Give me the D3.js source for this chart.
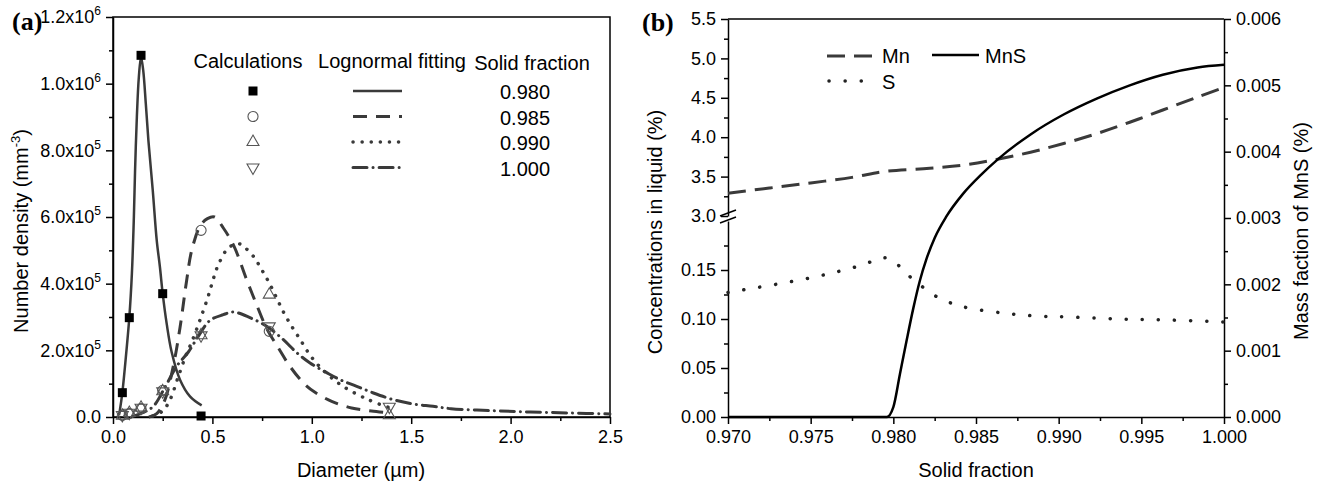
<!DOCTYPE html>
<html>
<head>
<meta charset="utf-8">
<script src="https://cdn.jsdelivr.net/npm/d3@7"></script>
<style>
  body { margin: 0; background: #fff; }
  text { font-family: "Liberation Sans", Arial, sans-serif; fill: #000; }
</style>
</head>
<body>
<svg id="chart" width="1322" height="484"></svg>
<script>
// ---------- panel (a) data: number density vs diameter ----------
const calcDiam = [0.047, 0.082, 0.141, 0.25, 0.443, 0.786, 1.39];
const calc980  = [7.3e4, 2.98e5, 1.085e6, 3.7e5, 3e3, null, null];
const calc985  = [5e3, 1.0e4, 2.5e4, 8.0e4, 5.6e5, 2.57e5, null];
const calc990  = [4e3, 1.2e4, 2.8e4, 7.7e4, 2.45e5, 3.67e5, 5e3];
const calc1000 = [6e3, 1.3e4, 2.8e4, 7.7e4, 2.45e5, 2.72e5, 3.1e4];

const fit980 = [[0.03, 5e3], [0.035, 2.2e4], [0.047, 7.3e4], [0.06, 1.5e5], [0.082, 2.98e5],
  [0.095, 4.3e5], [0.105, 6.0e5], [0.111, 7.4e5], [0.12, 9.0e5], [0.13, 1.02e6], [0.141, 1.08e6],
  [0.152, 1.04e6], [0.165, 9.4e5], [0.178, 8.3e5], [0.2, 6.8e5], [0.22, 5.3e5], [0.236, 4.5e5],
  [0.25, 3.7e5], [0.27, 2.8e5], [0.295, 1.95e5], [0.337, 1.12e5], [0.387, 6.2e4], [0.446, 3.5e4]];
const fit985 = [[0.18, 0], [0.22, 1.0e4], [0.26, 5.0e4], [0.303, 1.52e5], [0.337, 2.68e5],
  [0.371, 4.12e5], [0.396, 5.0e5], [0.44, 5.75e5], [0.475, 5.95e5], [0.51, 6.0e5], [0.555, 5.67e5],
  [0.609, 5.12e5], [0.669, 4.17e5], [0.719, 3.42e5], [0.776, 2.62e5], [0.827, 2.12e5],
  [0.89, 1.52e5], [0.966, 9.7e4], [1.016, 7.4e4], [1.1, 4.7e4], [1.2, 2.7e4], [1.3, 1.8e4], [1.39, 1.2e4]];
const fit990 = [[0.2, 3e3], [0.25, 1.8e4], [0.287, 5.2e4], [0.329, 1.22e5], [0.365, 1.82e5],
  [0.396, 2.25e5], [0.44, 2.95e5], [0.483, 3.7e5], [0.505, 4.15e5], [0.53, 4.57e5], [0.58, 5.07e5],
  [0.63, 5.2e5], [0.656, 5.12e5], [0.706, 4.82e5], [0.748, 4.42e5], [0.786, 4.02e5], [0.823, 3.57e5],
  [0.86, 3.12e5], [0.899, 2.72e5], [0.941, 2.33e5], [0.983, 1.93e5], [1.033, 1.55e5],
  [1.142, 9.8e4], [1.284, 5.2e4], [1.4, 2.6e4]];
const fit1000 = [[0.1, 2e3], [0.15, 1.3e4], [0.203, 3.2e4], [0.264, 9.2e4], [0.32, 1.52e5],
  [0.379, 1.95e5], [0.429, 2.42e5], [0.488, 2.9e5], [0.555, 3.07e5], [0.605, 3.15e5], [0.689, 2.98e5],
  [0.773, 2.72e5], [0.857, 2.32e5], [0.924, 1.93e5], [0.991, 1.62e5], [1.075, 1.33e5], [1.142, 1.12e5],
  [1.226, 9.2e4], [1.31, 7.2e4], [1.41, 5.2e4], [1.51, 3.9e4], [1.61, 3.2e4], [1.7, 2.5e4],
  [1.9, 1.9e4], [2.1, 1.5e4], [2.3, 1.2e4], [2.5, 9e3]];

const xTicksA = [0, 0.5, 1.0, 1.5, 2.0, 2.5];
const yTicksA = [0, 2e5, 4e5, 6e5, 8e5, 1e6, 1.2e6];
const fractions = ["0.980", "0.985", "0.990", "1.000"];

// ---------- panel (b) data: concentrations vs solid fraction ----------
const mnData = [[0.970, 3.29], [0.9725, 3.355], [0.975, 3.42], [0.9775, 3.49], [0.9795, 3.565],
  [0.9822, 3.605], [0.9844, 3.65], [0.9863, 3.72], [0.9883, 3.81], [0.9903, 3.92], [0.9923, 4.045],
  [0.9943, 4.19], [0.9963, 4.345], [0.9984, 4.51], [1.000, 4.63]];
const sData = [[0.970, 0.127], [0.9709, 0.1296], [0.975, 0.142], [0.9779, 0.154], [0.9793, 0.162],
  [0.9797, 0.162], [0.9805, 0.152], [0.9812, 0.14], [0.982, 0.13], [0.9828, 0.121], [0.9837, 0.115],
  [0.9846, 0.111], [0.9867, 0.106], [0.9887, 0.103], [0.9907, 0.102], [0.9937, 0.1], [0.9967, 0.099],
  [1.000, 0.097]];
const mnsData = [[0.970, 0], [0.9796, 0], [0.98, 1.5e-4], [0.9804, 6.5e-4], [0.9808, 1.15e-3],
  [0.9812, 1.63e-3], [0.9816, 2.05e-3], [0.982, 2.38e-3], [0.9825, 2.7e-3], [0.9832, 3.02e-3],
  [0.9842, 3.36e-3], [0.9853, 3.65e-3], [0.9863, 3.88e-3], [0.9883, 4.26e-3], [0.9903, 4.56e-3],
  [0.9923, 4.8e-3], [0.9943, 5.0e-3], [0.9963, 5.16e-3], [0.9984, 5.27e-3], [1.000, 5.31e-3]];

const xTicksB = [0.970, 0.975, 0.980, 0.985, 0.990, 0.995, 1.000];
const yTicksBUpper = [3.0, 3.5, 4.0, 4.5, 5.0, 5.5];
const yTicksBLower = [0.00, 0.05, 0.10, 0.15];
const yTicksR = [0, 0.001, 0.002, 0.003, 0.004, 0.005, 0.006];

const svg = d3.select("#chart");
const lineGray = "#3a3a3a";

function styleAxis(g, fs) {
  g.selectAll("path,line").attr("stroke", "#000").attr("stroke-width", 1.5);
  g.selectAll("text").attr("font-size", fs).attr("fill", "#000")
    .style("font-family", '"Liberation Sans", Arial, sans-serif');
}
function minorAxis(axis, values, size) {
  return axis.tickValues(values).tickSize(size).tickFormat("");
}

// ================= PANEL (a) =================
const xA = d3.scaleLinear().domain([0, 2.5]).range([113, 610]);
const yA = d3.scaleLinear().domain([0, 1.2e6]).range([417, 17]);

svg.append("rect").attr("x", 113).attr("y", 17).attr("width", 497).attr("height", 400)
  .attr("fill", "none").attr("stroke", "#000").attr("stroke-width", 1.5);

const gxA = svg.append("g").attr("transform", "translate(0,417)")
  .call(d3.axisBottom(xA).tickValues(xTicksA).tickSize(7).tickPadding(6)
    .tickSizeOuter(0).tickFormat(d3.format(".1f")));
styleAxis(gxA, 18);
const gxAm = svg.append("g").attr("transform", "translate(0,417)")
  .call(minorAxis(d3.axisBottom(xA), d3.range(0.25, 2.5, 0.5), 4));
gxAm.select(".domain").remove();
styleAxis(gxAm, 18);

const gyA = svg.append("g").attr("transform", "translate(113,0)")
  .call(d3.axisLeft(yA).tickValues(yTicksA).tickSize(7).tickPadding(5).tickSizeOuter(0));
styleAxis(gyA, 18);
gyA.selectAll(".tick text").each(function (d) {
  const t = d3.select(this).text(null);
  if (d === 0) { t.text("0.0"); return; }
  const exp = d >= 1e6 ? 6 : 5;
  t.append("tspan").text((d / Math.pow(10, exp)).toFixed(1) + "x10");
  t.append("tspan").attr("font-size", 12).attr("dy", -8).text(exp);
});
const gyAm = svg.append("g").attr("transform", "translate(113,0)")
  .call(minorAxis(d3.axisLeft(yA), d3.range(1e5, 1.2e6, 2e5), 4));
gyAm.select(".domain").remove();
styleAxis(gyAm, 18);

const lineA = d3.line().x(d => xA(d[0])).y(d => yA(d[1])).curve(d3.curveCatmullRom.alpha(0.5));
const fitStyles = [
  { data: fit980, dash: null, w: 2.5 },
  { data: fit985, dash: "14,9", w: 3 },
  { data: fit990, dash: "0.1,9", w: 3.5 },
  { data: fit1000, dash: "14,6,0.1,6", w: 3 }
];
fitStyles.forEach(s => {
  svg.append("path").attr("d", lineA(s.data)).attr("fill", "none")
    .attr("stroke", lineGray).attr("stroke-width", s.w)
    .attr("stroke-linecap", s.dash && s.dash.includes("0.1") ? "round" : "butt")
    .attr("stroke-dasharray", s.dash);
});

const symSquare = d3.symbol().type(d3.symbolSquare).size(81)();
const symCircle = d3.symbol().type(d3.symbolCircle).size(80)();
const symTri = d3.symbol().type(d3.symbolTriangle).size(62)();
const markerDefs = [
  { vals: calc980, path: symSquare, fill: "#000", stroke: "none", rot: 0 },
  { vals: calc985, path: symCircle, fill: "none", stroke: "#555", rot: 0 },
  { vals: calc990, path: symTri, fill: "none", stroke: "#555", rot: 0 },
  { vals: calc1000, path: symTri, fill: "none", stroke: "#555", rot: 180 }
];
markerDefs.forEach(m => {
  calcDiam.forEach((d, i) => {
    const v = m.vals[i];
    if (v === null) return;
    svg.append("path").attr("d", m.path)
      .attr("transform", `translate(${xA(d)},${yA(v)}) rotate(${m.rot})`)
      .attr("fill", m.fill).attr("stroke", m.stroke).attr("stroke-width", 1.1);
  });
});

// legend (a)
const legA = svg.append("g");
[["Calculations", 248, 68], ["Lognormal fitting", 392, 68], ["Solid fraction", 532, 70]].forEach(h => {
  legA.append("text").attr("x", h[1]).attr("y", h[2]).attr("text-anchor", "middle")
    .attr("font-size", 20).text(h[0]);
});
fractions.forEach((f, i) => {
  const y = 91 + i * 25.5;
  const m = markerDefs[i];
  legA.append("path").attr("d", m.path).attr("transform", `translate(253,${y}) rotate(${m.rot})`)
    .attr("fill", m.fill).attr("stroke", m.stroke).attr("stroke-width", 1.1);
  const s = fitStyles[i];
  legA.append("line").attr("x1", 353).attr("x2", 402).attr("y1", y).attr("y2", y)
    .attr("stroke", lineGray).attr("stroke-width", s.w).attr("stroke-dasharray", s.dash)
    .attr("stroke-linecap", s.dash && s.dash.includes("0.1") ? "round" : "butt");
  legA.append("text").attr("x", 525).attr("y", y + 8).attr("text-anchor", "middle")
    .attr("font-size", 20).text(f);
});

svg.append("text").attr("x", 12).attr("y", 30).attr("font-size", 26).attr("font-weight", "bold")
  .style("font-family", '"Liberation Serif", "Times New Roman", serif').text("(a)");

const ttlA = svg.append("text").attr("transform", "translate(28,231) rotate(-90)")
  .attr("text-anchor", "middle").attr("font-size", 20);
ttlA.append("tspan").text("Number density (mm");
ttlA.append("tspan").attr("font-size", 13).attr("dy", -8).text("-3");
ttlA.append("tspan").attr("dy", 8).text(")");

svg.append("text").attr("x", 361).attr("y", 477).attr("text-anchor", "middle")
  .attr("font-size", 20).text("Diameter (\u00b5m)");

// ================= PANEL (b) =================
const xB = d3.scaleLinear().domain([0.970, 1.000]).range([728, 1224]);
const yBu = d3.scaleLinear().domain([3.0, 5.5]).range([216, 19]);
const yBl = d3.scaleLinear().domain([0, 0.2]).range([417, 221]);
const yR = d3.scaleLinear().domain([0, 0.006]).range([417, 19]);

svg.append("line").attr("x1", 728).attr("x2", 1224).attr("y1", 19).attr("y2", 19)
  .attr("stroke", "#000").attr("stroke-width", 1.5);

const gxB = svg.append("g").attr("transform", "translate(0,417)")
  .call(d3.axisBottom(xB).tickValues(xTicksB).tickSize(7).tickPadding(6)
    .tickSizeOuter(0).tickFormat(d3.format(".3f")));
styleAxis(gxB, 18);
const gxBm = svg.append("g").attr("transform", "translate(0,417)")
  .call(minorAxis(d3.axisBottom(xB), d3.range(0.9725, 1.0, 0.005), 4));
gxBm.select(".domain").remove();
styleAxis(gxBm, 18);

const gyBu = svg.append("g").attr("transform", "translate(728,0)")
  .call(d3.axisLeft(yBu).tickValues(yTicksBUpper).tickSize(7).tickPadding(5)
    .tickSizeOuter(0).tickFormat(d3.format(".1f")));
styleAxis(gyBu, 18);
const gyBum = svg.append("g").attr("transform", "translate(728,0)")
  .call(minorAxis(d3.axisLeft(yBu), d3.range(3.25, 5.5, 0.5), 4));
gyBum.select(".domain").remove();
styleAxis(gyBum, 18);

const gyBl = svg.append("g").attr("transform", "translate(728,0)")
  .call(d3.axisLeft(yBl).tickValues(yTicksBLower).tickSize(7).tickPadding(5)
    .tickSizeOuter(0).tickFormat(d3.format(".2f")));
styleAxis(gyBl, 18);
const gyBlm = svg.append("g").attr("transform", "translate(728,0)")
  .call(minorAxis(d3.axisLeft(yBl), [0.025, 0.075, 0.125, 0.175], 4));
gyBlm.select(".domain").remove();
styleAxis(gyBlm, 18);

// axis break marks
[0, 7].forEach(off => {
  svg.append("line").attr("x1", 720).attr("x2", 736)
    .attr("y1", 216 + off).attr("y2", 210 + off)
    .attr("stroke", "#000").attr("stroke-width", 1.5);
});

const gyR = svg.append("g").attr("transform", "translate(1224,0)")
  .call(d3.axisRight(yR).tickValues(yTicksR).tickSize(7).tickPadding(5)
    .tickSizeOuter(0).tickFormat(d3.format(".3f")));
styleAxis(gyR, 18);
const gyRm = svg.append("g").attr("transform", "translate(1224,0)")
  .call(minorAxis(d3.axisRight(yR), d3.range(0.0005, 0.006, 0.001), 4));
gyRm.select(".domain").remove();
styleAxis(gyRm, 18);

const smooth = d3.curveCatmullRom.alpha(0.5);
const lineMn = d3.line().x(d => xB(d[0])).y(d => yBu(d[1])).curve(smooth);
const lineS = d3.line().x(d => xB(d[0])).y(d => yBl(d[1])).curve(smooth);
const lineMnS = d3.line().x(d => xB(d[0])).y(d => yR(d[1])).curve(d3.curveMonotoneX);

svg.append("path").attr("d", lineMn(mnData)).attr("fill", "none").attr("stroke", lineGray)
  .attr("stroke-width", 3).attr("stroke-dasharray", "18,9");
svg.append("path").attr("d", lineS(sData)).attr("fill", "none").attr("stroke", "#222")
  .attr("stroke-width", 3.5).attr("stroke-linecap", "round").attr("stroke-dasharray", "0.1,16");
svg.append("path").attr("d", lineMnS(mnsData)).attr("fill", "none").attr("stroke", "#000")
  .attr("stroke-width", 2.5);

// legend (b)
svg.append("line").attr("x1", 827).attr("x2", 872).attr("y1", 56).attr("y2", 56)
  .attr("stroke", lineGray).attr("stroke-width", 3).attr("stroke-dasharray", "18,9");
svg.append("text").attr("x", 882).attr("y", 63).attr("font-size", 20).text("Mn");
svg.append("line").attr("x1", 932).attr("x2", 979).attr("y1", 55).attr("y2", 55)
  .attr("stroke", "#000").attr("stroke-width", 2.5);
svg.append("text").attr("x", 985).attr("y", 63).attr("font-size", 20).text("MnS");
svg.append("line").attr("x1", 829).attr("x2", 872).attr("y1", 81).attr("y2", 81)
  .attr("stroke", "#222").attr("stroke-width", 3.5).attr("stroke-linecap", "round")
  .attr("stroke-dasharray", "0.1,16");
svg.append("text").attr("x", 882).attr("y", 89).attr("font-size", 20).text("S");

svg.append("text").attr("x", 642).attr("y", 31).attr("font-size", 26).attr("font-weight", "bold")
  .style("font-family", '"Liberation Serif", "Times New Roman", serif').text("(b)");

svg.append("text").attr("transform", "translate(662,232) rotate(-90)")
  .attr("text-anchor", "middle").attr("font-size", 20).text("Concentrations in liquid (%)");
svg.append("text").attr("transform", "translate(1308,231) rotate(-90)")
  .attr("text-anchor", "middle").attr("font-size", 20).text("Mass faction of MnS (%)");
svg.append("text").attr("x", 976).attr("y", 477).attr("text-anchor", "middle")
  .attr("font-size", 20).text("Solid fraction");
</script>
</body>
</html>
